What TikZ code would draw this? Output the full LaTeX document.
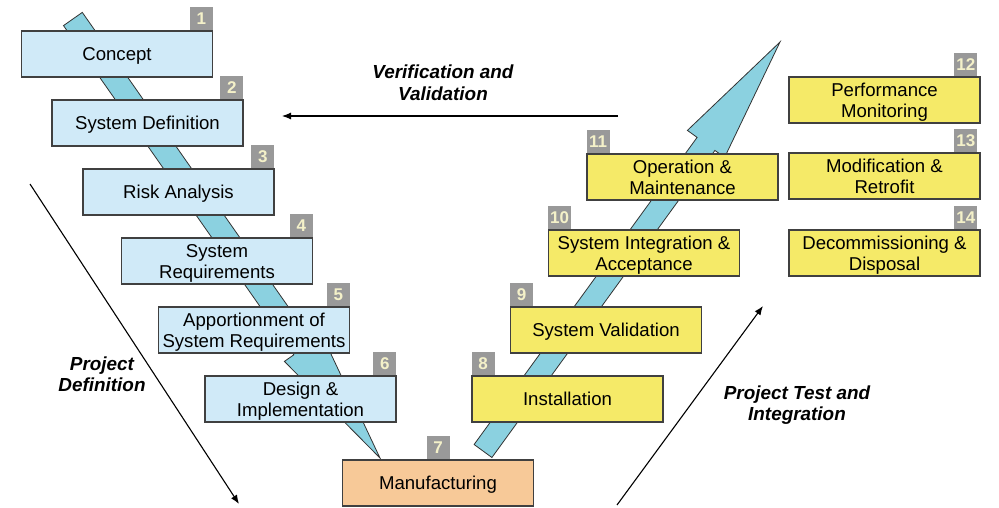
\documentclass[tikz,border=0pt]{standalone}
\usepackage{fontspec}
\setmainfont{Liberation Sans}
\usetikzlibrary{arrows.meta}
\definecolor{stageblue}{HTML}{D0EAF8}
\definecolor{stageyellow}{HTML}{F5EA68}
\definecolor{stageorange}{HTML}{F7C998}
\definecolor{bandcyan}{HTML}{8BD1E0}
\definecolor{badgegray}{HTML}{999999}
\definecolor{badgetext}{HTML}{F4F1C9}
\newcommand{\stagetext}[1]{\raisebox{-2.5pt}[\height][\depth]{\begin{tabular}{@{}c@{}}#1\end{tabular}}}
\begin{document}
\begin{tikzpicture}[x=1pt,y=-1pt,
  stage/.style={draw=black!75, line width=1.2pt, minimum width=191pt, minimum height=46pt,
    inner sep=0pt, font=\fontsize{18.6}{21.3}\selectfont},
  bluestage/.style={stage, fill=stageblue},
  yellowstage/.style={stage, fill=stageyellow},
  orangestage/.style={stage, fill=stageorange},
  badge/.style={fill=badgegray, text=badgetext, font=\fontsize{17}{17}\selectfont\bfseries,
    minimum width=23pt, minimum height=23pt, inner sep=0pt},
  band/.style={fill=bandcyan, draw=black!80, line width=0.8pt, line join=miter},
  flow/.style={draw=black, line width=1.1pt, -{Latex[length=9pt,width=7pt]}},
  phase/.style={font=\fontsize{18.9}{21.5}\selectfont\bfseries\itshape, align=center}]
\useasboundingbox (0,0) rectangle (999,508);

% bands (block arrows) behind the boxes
\draw[band] (63.5,25.6) -- (82.3,12.4) -- (312.6,341.6) -- (322.0,335.0) -- (380,458)
  -- (284.4,361.4) -- (293.8,354.8) -- cycle;
\draw[band] (474.1,444.5) -- (697.1,137.4) -- (687.4,130.4) -- (780,42)
  -- (724.6,157.4) -- (714.9,150.4) -- (491.9,457.5) -- cycle;

% stages
\node[bluestage] (s1) at (117,54) {\stagetext{Concept}};
\node[bluestage] (s2) at (147.5,123) {\stagetext{System Definition}};
\node[bluestage] (s3) at (178.5,192) {\stagetext{Risk Analysis}};
\node[bluestage] (s4) at (217,261) {\stagetext{System\\Requirements}};
\node[bluestage] (s5) at (254,330) {\stagetext{Apportionment of\\System Requirements}};
\node[bluestage] (s6) at (300.5,399) {\stagetext{Design \&\\Implementation}};
\node[orangestage] (s7) at (438,483) {\stagetext{Manufacturing}};
\node[yellowstage] (s8) at (567.5,399) {\stagetext{Installation}};
\node[yellowstage] (s9) at (606,330) {\stagetext{System Validation}};
\node[yellowstage] (s10) at (644,253) {\stagetext{System Integration \&\\Acceptance}};
\node[yellowstage] (s11) at (682.5,177) {\stagetext{Operation \&\\Maintenance}};
\node[yellowstage] (s12) at (884.5,100) {\stagetext{Performance\\Monitoring}};
\node[yellowstage] (s13) at (884.5,176) {\stagetext{Modification \&\\Retrofit}};
\node[yellowstage] (s14) at (884.5,253) {\stagetext{Decommissioning \&\\Disposal}};

% badges
\node[badge, anchor=south east] (b1) at (s1.north east) {1};
\node[badge, anchor=south east] (b2) at (s2.north east) {2};
\node[badge, anchor=south east] (b3) at (s3.north east) {3};
\node[badge, anchor=south east] (b4) at (s4.north east) {4};
\node[badge, anchor=south east] (b5) at (s5.north east) {5};
\node[badge, anchor=south east] (b6) at (s6.north east) {6};
\node[badge, anchor=south] (b7) at (s7.north) {7};
\node[badge, anchor=south west] (b8) at (s8.north west) {8};
\node[badge, anchor=south west] (b9) at (s9.north west) {9};
\node[badge, anchor=south west] (b10) at (s10.north west) {10};
\node[badge, anchor=south west] (b11) at (s11.north west) {11};
\node[badge, anchor=south east, xshift=-3pt] (b12) at (s12.north east) {12};
\node[badge, anchor=south east, xshift=-3pt] (b13) at (s13.north east) {13};
\node[badge, anchor=south east, xshift=-3pt] (b14) at (s14.north east) {14};

% phase arrows
\coordinate (vvstart) at (618,116);
\coordinate (vvend) at (282,116);
\draw[flow] (vvstart) -- (vvend);
\node[phase] (vvlabel) at (443,83) {Verification and\\Validation};

\coordinate (pdstart) at (30,184);
\coordinate (pdend) at (239,504);
\draw[flow] (pdstart) -- (pdend);
\node[phase] (pdlabel) at (102,374) {Project\\Definition};

\coordinate (ptstart) at (617,505);
\coordinate (ptend) at (763,306);
\draw[flow] (ptstart) -- (ptend);
\node[phase] (ptlabel) at (797,405) {Project Test and\\Integration};
\end{tikzpicture}
\end{document}
